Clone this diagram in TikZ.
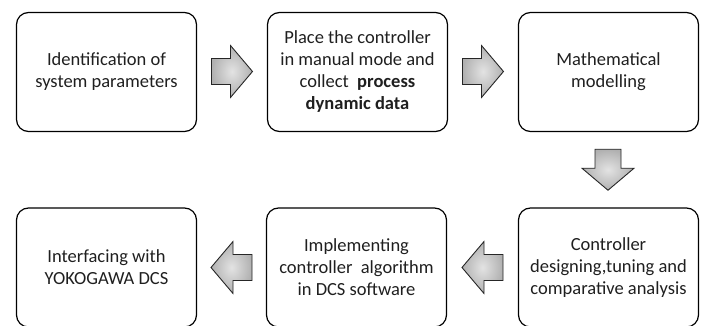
\documentclass[tikz,border=0pt]{standalone}
\usepackage{fontspec}
\setmainfont{Carlito}
\usetikzlibrary{calc}
\tikzset{
  stepbox/.style={draw=black, line width=1.2pt, rounded corners=12pt,
    minimum width=180pt, minimum height=119pt, align=center,
    font=\fontsize{18.5}{22}\selectfont, text=black!88, inner sep=2pt},
  blockarrow/.style={draw=black!85, line width=0.9pt, line join=miter,
    inner color=gray!22, outer color=gray!62}
}
\newcommand{\blockarr}[2]{%
  \begin{scope}[shift={(#1)}, rotate=#2]
    \draw[blockarrow] (-20.5,-13) -- (-1.5,-13) -- (-1.5,-26) -- (20.5,0)
      -- (-1.5,26) -- (-1.5,13) -- (-20.5,13) -- cycle;
  \end{scope}}
\begin{document}
\begin{tikzpicture}[x=1pt,y=-1pt]
\useasboundingbox (0,0) rectangle (705,326);
\node[stepbox] (b1) at (106.5,72) {Identification of\\system parameters};
\node[stepbox] (b2) at (357.5,72) {Place the controller\\in manual mode and\\collect\ \ \textbf{process}\\\textbf{dynamic data}};
\node[stepbox] (b3) at (608.5,72) {Mathematical\\modelling};
\node[stepbox] (b6) at (608.5,267.5) {Controller\\designing,tuning and\\comparative analysis};
\node[stepbox] (b5) at (356.5,267.5) {Implementing\\controller\ \ algorithm\\in DCS software};
\node[stepbox] (b4) at (106.5,267.5) {Interfacing with\\YOKOGAWA DCS};
\coordinate (a1) at ($(b1.east)!0.5!(b2.west)+(0,-0.5)$);
\coordinate (a2) at ($(b2.east)!0.5!(b3.west)+(0,-0.5)$);
\coordinate (a3) at ($(b3.south)!0.5!(b6.north)+(-0.5,0)$);
\coordinate (a4) at ($(b6.west)!0.5!(b5.east)$);
\coordinate (a5) at ($(b5.west)!0.5!(b4.east)$);
\blockarr{a1}{0}
\blockarr{a2}{0}
\blockarr{a3}{-90}
\blockarr{a4}{180}
\blockarr{a5}{180}
\end{tikzpicture}
\end{document}
